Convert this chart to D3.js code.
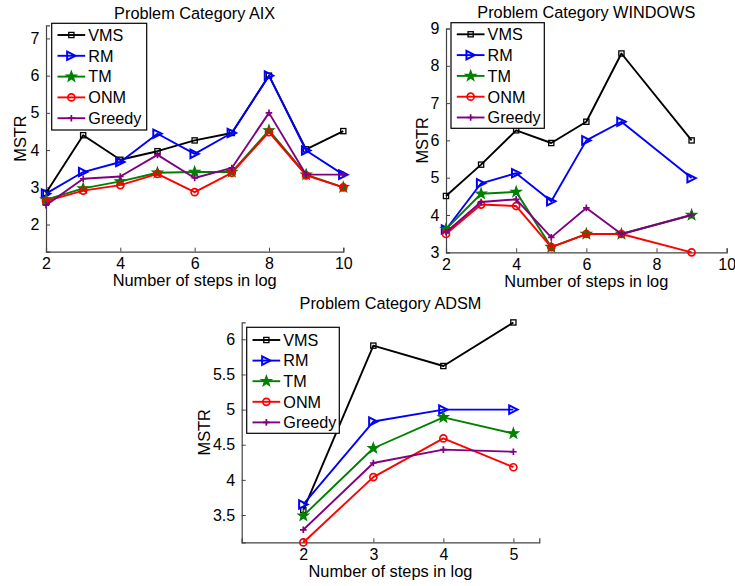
<!DOCTYPE html>
<html><head><meta charset="utf-8">
<script src="https://cdn.jsdelivr.net/npm/d3@7"></script>
<style>
html,body{margin:0;padding:0;background:#fff;}
svg{display:block;font-family:"Liberation Sans",Arial,Helvetica,sans-serif;}
</style></head>
<body>
<svg id="chart" width="735" height="586"></svg>
<script>
// ---- data ----
const seriesNames = ["VMS","RM","TM","ONM","Greedy"];
const seriesColors = ["#000000","#0000ff","#008000","#ff0000","#800080"];
const markerTypes = ["square","triangle","star","circle","plus"];

const aixX = [2,3,4,5,6,7,8,9,10];
const aixVMS    = [2.85,4.40,3.74,3.97,4.26,4.46,6.00,4.02,4.51];
const aixRM     = [2.83,3.41,3.68,4.44,3.90,4.46,6.00,3.99,3.34];
const aixTM     = [2.67,2.97,3.16,3.39,3.41,3.41,4.53,3.34,3.00];
const aixONM    = [2.63,2.91,3.06,3.36,2.87,3.39,4.48,3.32,3.00];
const aixGreedy = [2.52,3.23,3.29,3.87,3.25,3.52,5.00,3.34,3.34];
const aixXTicks = [2,4,6,8,10];
const aixYTicks = [2,3,4,5,6,7];

const winX = [2,3,4,5,6,7,9];
const winVMS    = [4.51,5.35,6.27,5.93,6.50,8.33,6.00];
const winRM     = [3.61,4.85,5.12,4.37,6.00,6.50,4.99];
const winTM     = [3.62,4.57,4.62,3.14,3.49,3.49,4.00];
const winONM    = [3.49,4.28,4.24,3.14,3.49,3.49,3.00];
const winGreedy = [3.54,4.35,4.42,3.40,4.19,3.49,4.00];
const winXTicks = [2,4,6,8,10];
const winYTicks = [3,4,5,6,7,8,9];

const adsmX = [2,3,4,5];
const adsmVMS    = [3.57,5.91,5.62,6.24];
const adsmRM     = [3.65,4.83,5.00,5.00];
const adsmTM     = [3.49,4.45,4.89,4.66];
const adsmONM    = [3.11,4.04,4.59,4.18];
const adsmGreedy = [3.29,4.24,4.43,4.40];
const adsmXTicks = [2,3,4,5];
const adsmYTicks = [3.5,4,4.5,5,5.5,6];

const titles = ["Problem Category AIX","Problem Category WINDOWS","Problem Category ADSM"];
const xLabel = "Number of steps in log";
const yLabel = "MSTR";

// ---- layout ----
const svg = d3.select("#chart");
const panels = [
  {title:titles[0], x:aixX, ys:[aixVMS,aixRM,aixTM,aixONM,aixGreedy], xt:aixXTicks, yt:aixYTicks,
   xd:[2,10], xr:[46,343.3], yd:[1.27,7.35], yr:[251.7,25.4], titleY:18.5, ylabX:20.7,
   leg:{x:51.7,y:23.3,w:95,h:106.7,row0:35,dy:20.8}, fmt:d3.format("d")},
  {title:titles[1], x:winX, ys:[winVMS,winRM,winTM,winONM,winGreedy], xt:winXTicks, yt:winYTicks,
   xd:[2,10], xr:[446,726.7], yd:[3,9], yr:[252.3,28.5], titleY:17.5, ylabX:422.5,
   leg:{x:451,y:22.7,w:93.3,h:105.6,row0:34.3,dy:20.8}, fmt:d3.format("d")},
  {title:titles[2], x:adsmX, ys:[adsmVMS,adsmRM,adsmTM,adsmONM,adsmGreedy], xt:adsmXTicks, yt:adsmYTicks,
   xd:[1.12,5.37], xr:[241.7,539.3], yd:[3.112,6.242], yr:[542.3,322.3], titleY:308.5, ylabX:204,
   leg:{x:246.7,y:327.3,w:92.6,h:106,row0:340,dy:20.6}, fmt:d => (d%1===0? d3.format("d")(d) : d3.format(".1f")(d))}
];

function drawMarker(g, type, cx, cy, color){
  if(type==="square"){
    g.append("rect").attr("x",cx-2.6).attr("y",cy-2.6).attr("width",5.2).attr("height",5.2)
      .attr("fill","none").attr("stroke",color).attr("stroke-width",1.3);
  } else if(type==="triangle"){
    const s=4.2;
    g.append("path").attr("d",`M${cx+s},${cy} L${cx-s},${cy-s} L${cx-s},${cy+s} Z`)
      .attr("fill","none").attr("stroke",color).attr("stroke-width",2);
  } else if(type==="star"){
    const pts=[]; const R=5.4, r=2.2;
    for(let i=0;i<10;i++){const a=-Math.PI/2+i*Math.PI/5; const rr=i%2?r:R; pts.push([cx+rr*Math.cos(a),cy+rr*Math.sin(a)]);}
    g.append("path").attr("d","M"+pts.map(p=>p.join(",")).join("L")+"Z")
      .attr("fill",color).attr("stroke",color).attr("stroke-width",1.2);
  } else if(type==="circle"){
    g.append("circle").attr("cx",cx).attr("cy",cy).attr("r",3.5)
      .attr("fill","none").attr("stroke",color).attr("stroke-width",1.7);
  } else if(type==="plus"){
    g.append("path").attr("d",`M${cx-3.3},${cy}H${cx+3.3}M${cx},${cy-3.3}V${cy+3.3}`)
      .attr("stroke",color).attr("stroke-width",1.7);
  }
}

panels.forEach(p=>{
  const g = svg.append("g");
  const x = d3.scaleLinear().domain(p.xd).range(p.xr);
  const y = d3.scaleLinear().domain(p.yd).range(p.yr);
  const axisColor="#444";
  const xa = d3.axisBottom(x).tickValues(p.xt).tickSize(-4).tickPadding(6).tickFormat(p.fmt);
  const ya = d3.axisLeft(y).tickValues(p.yt).tickSize(-4).tickPadding(6.5).tickFormat(p.fmt);
  const gx = g.append("g").attr("transform",`translate(0,${p.yr[0]})`).call(xa);
  const gy = g.append("g").attr("transform",`translate(${p.xr[0]},0)`).call(ya);
  [gx,gy].forEach(a=>{
    a.select(".domain").attr("stroke",axisColor).attr("stroke-width",1.2);
    a.selectAll(".tick line").attr("stroke",axisColor);
    a.selectAll(".tick text").attr("fill","#000").style("font-size","16px").style("font-family",'"Liberation Sans",Arial,sans-serif');
  });
  gx.selectAll(".tick text").attr("dy","0.72em").attr("y",5.8);
  const cxm=(p.xr[0]+p.xr[1])/2;
  g.append("text").attr("x",cxm).attr("y",p.titleY).attr("text-anchor","middle")
    .style("font-size","16.3px").text(p.title);
  g.append("text").attr("x",cxm).attr("y",p.yr[0]+34.5).attr("text-anchor","middle")
    .style("font-size","16.4px").text(xLabel);
  const cym=(p.yr[0]+p.yr[1])/2;
  g.append("text").attr("transform",`translate(${p.ylabX},${cym}) rotate(-90)`).attr("text-anchor","middle")
    .attr("dy","0.35em").style("font-size","16.4px").text(yLabel);
  const line = d3.line().x((d,i)=>x(p.x[i])).y(d=>y(d));
  p.ys.forEach((vals,k)=>{
    g.append("path").datum(vals).attr("d",line).attr("fill","none")
      .attr("stroke",seriesColors[k]).attr("stroke-width",1.9).attr("stroke-linejoin","round");
    vals.forEach((v,i)=>drawMarker(g,markerTypes[k],x(p.x[i]),y(v),seriesColors[k]));
  });
  const L=p.leg;
  const lg=g.append("g");
  lg.append("rect").attr("x",L.x).attr("y",L.y).attr("width",L.w).attr("height",L.h)
    .attr("fill","#fff").attr("stroke","#000").attr("stroke-width",1.2);
  seriesNames.forEach((n,k)=>{
    const yy=L.row0+k*L.dy;
    const x1=L.x+5.8, x2=L.x+33.5;
    lg.append("line").attr("x1",x1).attr("x2",x2).attr("y1",yy).attr("y2",yy)
      .attr("stroke",seriesColors[k]).attr("stroke-width",1.9);
    drawMarker(lg,markerTypes[k],(x1+x2)/2,yy,seriesColors[k]);
    lg.append("text").attr("x",L.x+36.6).attr("y",yy).attr("dy","0.36em")
      .style("font-size","16.2px").text(n);
  });
});
</script>
</body></html>
